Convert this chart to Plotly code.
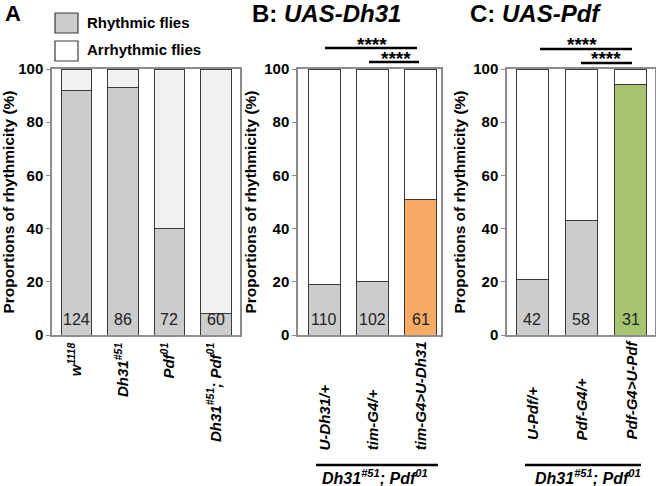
import plotly.graph_objects as go

# ---------------- data ----------------
a_labels = ["w<sup>1118</sup>", "Dh31<sup>#51</sup>", "Pdf<sup>01</sup>", "Dh31<sup>#51</sup>; Pdf<sup>01</sup>"]
a_rhythmic = [92, 93, 40, 8]
a_n = [124, 86, 72, 60]

b_labels = ["U-Dh31/+", "tim-G4/+", "tim-G4>U-Dh31"]
b_rhythmic = [19, 20, 51]
b_n = [110, 102, 61]

c_labels = ["U-Pdf/+", "Pdf-G4/+", "Pdf-G4>U-Pdf"]
c_rhythmic = [21, 43, 94]
c_n = [42, 58, 31]

yticks = [0, 20, 40, 60, 80, 100]
group_label = "Dh31<sup>#51</sup>; Pdf<sup>01</sup>"

GRAY = "#cccccc"
EDGE = "#3a3a3a"
AXIS = "#8c8c8c"
FONT = "Liberation Sans, Arial, sans-serif"

W, H = 656, 486
def px(x): return x / W
def py(y): return 1 - y / H

fig = go.Figure()

panels = [
    ("x", "y", a_labels, a_rhythmic, a_n, [GRAY] * 4, "#f1f1f1"),
    ("x2", "y2", b_labels, b_rhythmic, b_n, [GRAY, GRAY, "#f6aa63"], "white"),
    ("x3", "y3", c_labels, c_rhythmic, c_n, [GRAY, GRAY, "#a6c46f"], "white"),
]

for xa, ya, labels, rh, ns, cols, arcol in panels:
    xs = list(range(len(labels)))
    fig.add_trace(go.Bar(x=xs, y=rh, xaxis=xa, yaxis=ya, width=0.66,
                         marker=dict(color=cols, line=dict(color=EDGE, width=1)),
                         showlegend=False, hoverinfo="skip"))
    fig.add_trace(go.Bar(x=xs, y=[100 - v for v in rh], xaxis=xa, yaxis=ya, width=0.66,
                         marker=dict(color=arcol, line=dict(color=EDGE, width=1)),
                         showlegend=False, hoverinfo="skip"))
    for x, n in zip(xs, ns):
        fig.add_annotation(x=x, y=6, xref=xa, yref=ya, text=str(n), showarrow=False,
                           yanchor="middle",
                           font=dict(size=16, color="#222", family=FONT))

ydom = [py(335), py(69)]
xdoms = [[px(52), px(240)], [px(298), px(441)], [px(507), px(655)]]
xranges = [[-0.53, 3.52], [-0.55, 2.42], [-0.52, 2.5]]
label_sets = [a_labels, b_labels, c_labels]

XFONT = dict(size=15, family=FONT, color="black", weight="bold", style="italic")

axis_common = dict(showline=True, linecolor=AXIS, linewidth=1.5, mirror=True,
                   automargin=False)
for i in range(3):
    sfx = "" if i == 0 else str(i + 1)
    fig.update_layout(**{
        "xaxis" + sfx: dict(domain=xdoms[i], range=xranges[i], anchor="y" + sfx,
                            tickmode="array", tickvals=list(range(len(label_sets[i]))),
                            ticktext=label_sets[i], tickangle=-90, ticks="",
                            showticklabels=(i == 0),
                            tickfont=XFONT,
                            showgrid=False, zeroline=False, fixedrange=True, **axis_common),
        "yaxis" + sfx: dict(domain=ydom, range=[0, 100], anchor="x" + sfx,
                            tickvals=yticks, ticks="outside", ticklen=4, tickcolor=AXIS,
                            tickfont=dict(size=15, family=FONT, color="black", weight="bold"),
                            title=dict(text="Proportions of rhythmicity (%)", standoff=4,
                                       font=dict(size=15.5, family=FONT, color="black",
                                                 weight="bold")),
                            showgrid=False, zeroline=False, fixedrange=True, **axis_common),
    })

# B and C category labels: rotated, bottom-aligned
for xa, labels, ybot in [("x2", b_labels, 452), ("x3", c_labels, 442)]:
    for i, lab in enumerate(labels):
        fig.add_annotation(xref=xa, yref="paper", x=i, y=py(ybot), text=lab,
                           textangle=-90, xanchor="center", yanchor="bottom",
                           showarrow=False, font=XFONT)

# significance brackets
def bracket(x0, x1, yline, ystar, xstar):
    fig.add_shape(type="line", xref="paper", yref="paper", x0=px(x0), x1=px(x1),
                  y0=py(yline), y1=py(yline), line=dict(color="black", width=2.5))
    fig.add_annotation(xref="paper", yref="paper", x=px(xstar), y=py(ystar),
                       xanchor="center", yanchor="middle",
                       text="****", showarrow=False,
                       font=dict(size=19, family=FONT, color="black", weight="bold"))

bracket(325, 417, 48, 44, 372)
bracket(369, 419, 62, 58, 396)
bracket(540, 632, 49, 45, 582)
bracket(581, 632, 63, 59, 606)

# genotype group lines
for x0, x1, xt in [(316, 438, 375), (525, 641, 588)]:
    fig.add_shape(type="line", xref="paper", yref="paper", x0=px(x0), x1=px(x1),
                  y0=py(465), y1=py(465), line=dict(color="black", width=2.5))
    fig.add_annotation(xref="paper", yref="paper", x=px(xt), y=py(477),
                       xanchor="center", yanchor="middle",
                       text=group_label, showarrow=False,
                       font=dict(size=16, family=FONT, color="black", weight="bold",
                                 style="italic"))

# legend
fig.add_shape(type="rect", xref="paper", yref="paper", x0=px(55), x1=px(78),
              y0=py(33), y1=py(13), fillcolor=GRAY, line=dict(color=EDGE, width=1.2))
fig.add_shape(type="rect", xref="paper", yref="paper", x0=px(55), x1=px(78),
              y0=py(61), y1=py(41), fillcolor="white", line=dict(color=EDGE, width=1.2))
fig.add_annotation(xref="paper", yref="paper", x=px(85), y=py(22), xanchor="left",
                   yanchor="middle", text="Rhythmic flies", showarrow=False,
                   font=dict(size=15, family=FONT, color="black", weight="bold"))
fig.add_annotation(xref="paper", yref="paper", x=px(85), y=py(50), xanchor="left",
                   yanchor="middle", text="Arrhythmic flies", showarrow=False,
                   font=dict(size=15, family=FONT, color="black", weight="bold"))

# panel titles
fig.add_annotation(xref="paper", yref="paper", x=px(3), y=py(13), xanchor="left",
                   yanchor="middle", text="A", showarrow=False,
                   font=dict(size=22, family=FONT, color="black", weight="bold"))
fig.add_annotation(xref="paper", yref="paper", x=px(326), y=py(14), xanchor="center",
                   yanchor="middle", text="B: <i>UAS-Dh31</i>", showarrow=False,
                   font=dict(size=24, family=FONT, color="black", weight="bold"))
fig.add_annotation(xref="paper", yref="paper", x=px(535), y=py(14), xanchor="center",
                   yanchor="middle", text="C: <i>UAS-Pdf</i>", showarrow=False,
                   font=dict(size=24, family=FONT, color="black", weight="bold"))

fig.update_layout(width=W, height=H, barmode="stack", bargap=0.3,
                  margin=dict(l=0, r=0, t=0, b=0),
                  paper_bgcolor="white", plot_bgcolor="white",
                  font=dict(family=FONT, color="black"))

fig.write_html("out.html", config={"displayModeBar": False},
               post_script="document.body.style.margin='0';document.body.style.overflow='hidden';")
